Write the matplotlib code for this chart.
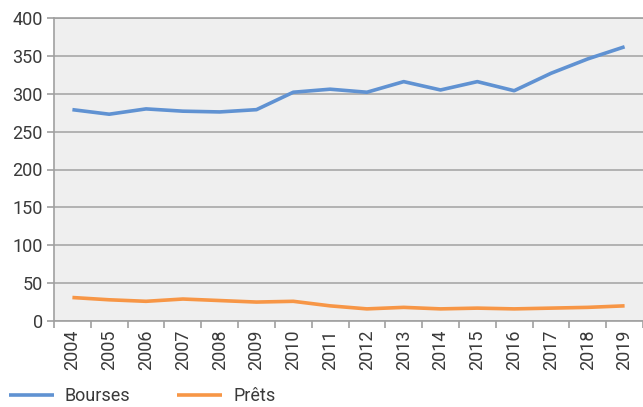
import numpy as np
from matplotlib import pyplot as plt

plt.rcParams['font.family'] = ['Roboto', 'DejaVu Sans']

years = [str(y) for y in range(2004, 2020)]
bourses = [279, 273, 280, 277, 276, 279, 302, 306, 302, 316, 305, 316, 304, 327, 346, 362]
prets = [31, 28, 26, 29, 27, 25, 26, 20, 16, 18, 16, 17, 16, 17, 18, 20]

fig = plt.figure(figsize=(6.43, 4.07), dpi=100)
ax = fig.add_axes([54/643, 86/407, 589/643, 303/407])
ax.set_facecolor('#efefef')

x = np.arange(len(years))
ax.plot(x, bourses, color='#6092d2', lw=2.6, label="Bourses", solid_capstyle='butt')
ax.plot(x, prets, color='#f79646', lw=2.6, label="Prêts", solid_capstyle='butt')

ax.set_xlim(-0.5, len(years) - 0.5)
ax.set_ylim(0, 400)
ax.set_yticks(range(0, 401, 50))
ax.yaxis.grid(True, color='#a8a8a8', lw=1.2)
ax.set_axisbelow(True)

# category ticks sit between the years
ax.set_xticks(x)
ax.set_xticklabels(years, rotation=90, fontsize=13, color='#3a3a3a')
ax.set_xticks(np.arange(-0.5, len(years)), minor=True)
ax.tick_params(axis='x', which='major', length=0, pad=6)
ax.tick_params(axis='x', which='minor', length=5, color='#a0a0a0', width=1.2)
ax.tick_params(axis='y', length=5, color='#a0a0a0', width=1.2, labelsize=13, labelcolor='#3a3a3a', pad=3)

ax.spines['right'].set_visible(False)
for s in ['left', 'bottom', 'top']:
    ax.spines[s].set_color('#a0a0a0')
    ax.spines[s].set_linewidth(1.2)

fig.legend(loc='lower left', bbox_to_anchor=(-0.012, -0.035), ncol=2, frameon=False,
           fontsize=13, handlelength=2.5, columnspacing=2.6, handletextpad=0.6,
           labelcolor='#3a3a3a')

plt.savefig("out.png", dpi=100)
